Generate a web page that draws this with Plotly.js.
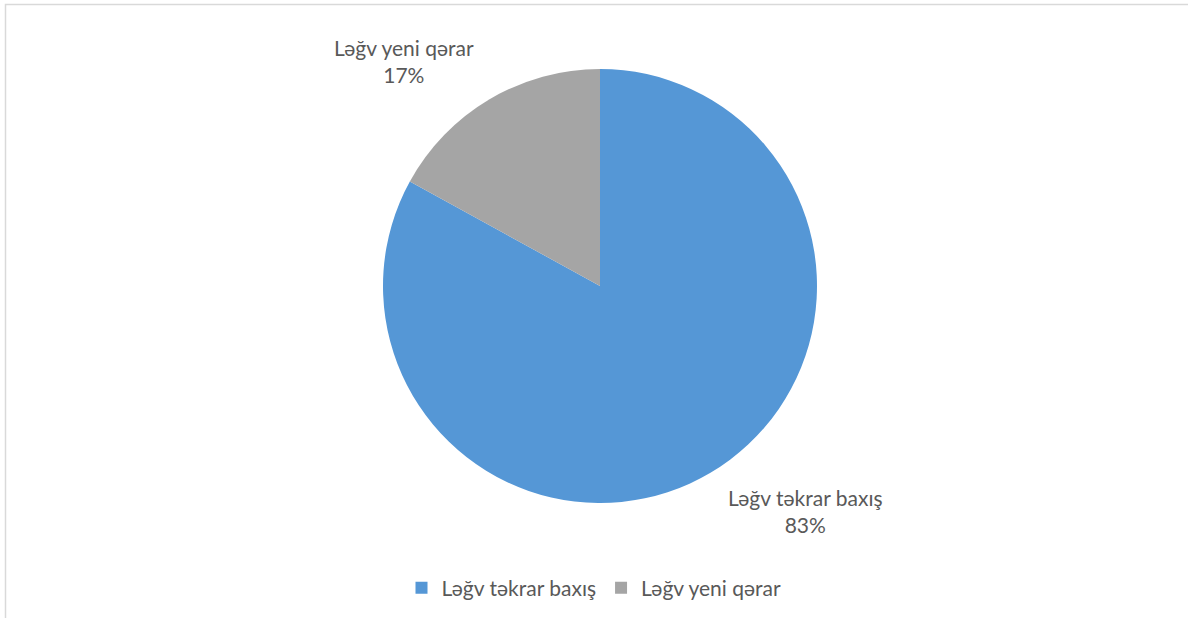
<!DOCTYPE html>
<html><head><meta charset="utf-8">
<script src="https://cdn.plot.ly/plotly-3.0.1.min.js"></script>
<style>html,body{margin:0;padding:0;background:#fff}#chart{width:1188px;height:618px}</style>
</head><body><div id="chart"></div>
<script>
const categories = ["Ləğv təkrar baxış", "Ləğv yeni qərar"];
const values = [83, 17];
const colors = ["#5597d6", "#a5a5a5"];

const total = values.reduce((a, b) => a + b, 0);
const labelPos = [[805 / 1188, 1 - 511 / 618], [404 / 1188, 1 - 61 / 618]];
const font = "Lato, 'Open Sans', sans-serif";

const annotations = categories.map((c, i) => ({
  xref: "paper", yref: "paper",
  x: labelPos[i][0], y: labelPos[i][1],
  xanchor: "center", yanchor: "middle",
  text: c + "<br>" + Math.round(values[i] / total * 100) + "%",
  showarrow: false,
  font: {family: font, size: 21, color: "#595959"}
}));

const data = [{
  type: "pie",
  labels: categories,
  values: values,
  sort: false,
  direction: "clockwise",
  rotation: 0,
  textinfo: "none",
  hoverinfo: "label+percent",
  marker: {colors: colors, line: {color: "#ffffff", width: 0}},
  domain: {x: [383 / 1188, 817 / 1188], y: [1 - 503 / 618, 1 - 69 / 618]}
}];

const layout = {
  width: 1188, height: 618,
  margin: {l: 0, r: 0, t: 0, b: 0},
  paper_bgcolor: "#ffffff",
  showlegend: true,
  legend: {
    orientation: "h", x: 0.5, xanchor: "center",
    y: 1 - 588 / 618, yanchor: "middle",
    font: {family: font, size: 21, color: "#595959"},
    itemwidth: 30
  },
  annotations: annotations,
  shapes: [{
    type: "rect", xref: "paper", yref: "paper",
    x0: 5.5 / 1188, x1: 1.02, y0: -0.02, y1: 1 - 4.5 / 618,
    line: {color: "#d9d9d9", width: 1.5}
  }]
};

Plotly.newPlot("chart", data, layout, {displayModeBar: false});
</script>
</body></html>
